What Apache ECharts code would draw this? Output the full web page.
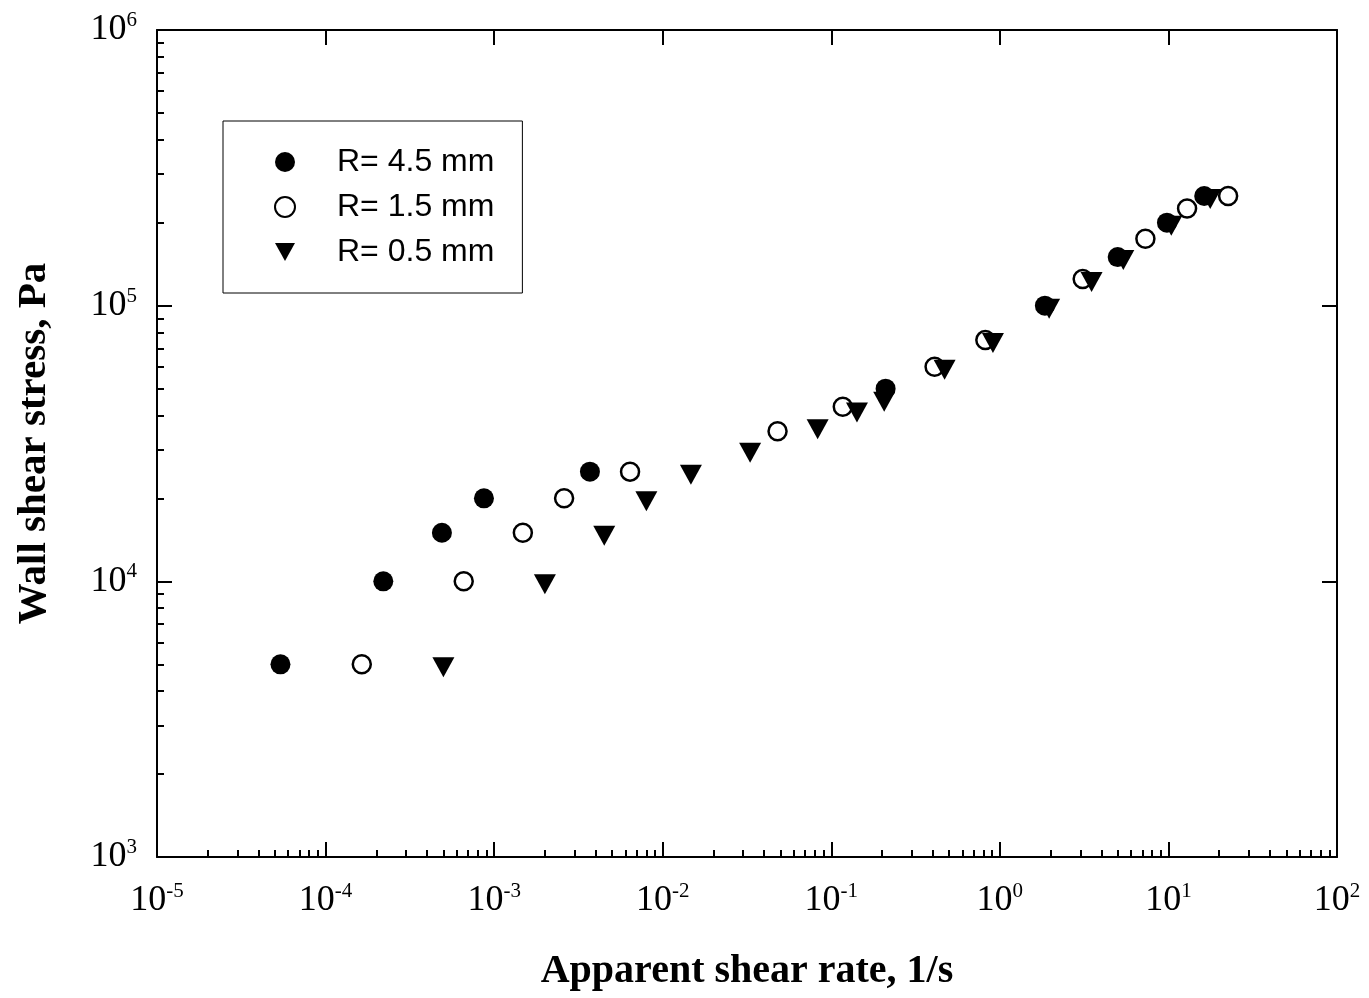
<!DOCTYPE html>
<html>
<head>
<meta charset="utf-8">
<title>Wall shear stress vs apparent shear rate</title>
<script src="https://cdn.jsdelivr.net/npm/echarts@6.0.0/dist/echarts.min.js"></script>
<style>
  html, body { margin: 0; padding: 0; background: #fff; }
  #chart { width: 1369px; height: 998px; }
</style>
</head>
<body>
<div id="chart"></div>
<script>
// R = 4.5 mm (filled circles)
const rateR45 = [5.4e-5, 2.2e-4, 4.9e-4, 8.7e-4, 3.7e-3, 0.21, 1.85, 5.0, 9.8, 16.3];
const stressR45 = [5000, 10000, 15000, 20000, 25000, 50000, 100000, 150000, 200000, 250000];
// R = 1.5 mm (open circles)
const rateR15 = [1.64e-4, 6.6e-4, 1.48e-3, 2.6e-3, 6.4e-3, 0.048, 0.117, 0.41, 0.82, 3.1, 7.3, 12.9, 22.6];
const stressR15 = [5000, 10000, 15000, 20000, 25000, 35000, 43000, 60000, 75000, 125000, 175000, 225000, 250000];
// R = 0.5 mm (down triangles)
const rateR05 = [5.0e-4, 2.0e-3, 4.5e-3, 8.0e-3, 0.0147, 0.033, 0.083, 0.142, 0.206, 0.47, 0.91, 1.96, 3.5, 5.4, 10.4, 17.7];
const stressR05 = [5000, 10000, 15000, 20000, 25000, 30000, 36500, 42000, 46000, 60000, 75000, 100000, 125000, 150000, 200000, 250000];

const seriesNames = ['R= 4.5 mm', 'R= 1.5 mm', 'R= 0.5 mm'];
const xMajor = [1e-5, 1e-4, 1e-3, 1e-2, 1e-1, 1, 10, 100];
const yMajor = [1e3, 1e4, 1e5, 1e6];

// 2..9 times each decade
const minorOf = (majors) => {
    let out = [];
    for (let i = 0; i < majors.length - 1; i++) {
        for (let k = 2; k <= 9; k++) out.push(majors[i] * k);
    }
    return out;
};

const zip = (xs, ys) => xs.map((x, i) => [x, ys[i]]);

const serif = '"Liberation Serif", "Times New Roman", serif';
const powLabel = {
    color: '#000',
    formatter: (v) => '{a|10}{b|' + Math.round(Math.log10(v)) + '}',
    rich: {
        a: { fontFamily: serif, fontSize: 36, lineHeight: 40, color: '#000' },
        b: { fontFamily: serif, fontSize: 21, lineHeight: 26, verticalAlign: 'top', color: '#000' }
    }
};
const black = { color: '#000', width: 2 };

const chart = echarts.init(document.getElementById('chart'));

let option = {
    animation: false,
    backgroundColor: '#fff',
    grid: { left: 157, right: 32, top: 30, bottom: 141 },
    legend: {
        orient: 'vertical',
        left: 223,
        top: 121,
        data: seriesNames,
        itemWidth: 20,
        itemHeight: 20,
        itemGap: 13,
        padding: [25, 28, 25, 51],
        borderColor: '#000',
        borderWidth: 1,
        textStyle: {
            fontFamily: '"Liberation Sans", Arial, sans-serif',
            fontSize: 32,
            color: '#000',
            padding: [0, 0, 0, 37]
        }
    },
    xAxis: [
        {
            type: 'log', min: 1e-5, max: 100, position: 'bottom',
            name: 'Apparent shear rate, 1/s',
            nameLocation: 'middle', nameGap: 95,
            nameTextStyle: { fontFamily: serif, fontWeight: 'bold', fontSize: 40, color: '#000' },
            axisLine: { lineStyle: black },
            axisTick: { inside: true, length: 15, lineStyle: black, customValues: xMajor },
            axisLabel: Object.assign({ margin: 24, customValues: xMajor }, powLabel),
            splitLine: { show: false }
        },
        {
            type: 'log', min: 1e-5, max: 100, position: 'bottom',
            axisLine: { show: false },
            axisTick: { inside: true, length: 7, lineStyle: black, customValues: minorOf(xMajor) },
            axisLabel: { show: false },
            splitLine: { show: false }
        },
        {
            type: 'log', min: 1e-5, max: 100, position: 'top',
            axisLine: { lineStyle: black },
            axisTick: { inside: true, length: 15, lineStyle: black, customValues: xMajor },
            axisLabel: { show: false },
            splitLine: { show: false }
        }
    ],
    yAxis: [
        {
            type: 'log', min: 1000, max: 1e6, position: 'left',
            name: 'Wall shear stress, Pa',
            nameLocation: 'middle', nameGap: 102,
            nameTextStyle: { fontFamily: serif, fontWeight: 'bold', fontSize: 41, color: '#000' },
            axisLine: { lineStyle: black },
            axisTick: { inside: true, length: 15, lineStyle: black, customValues: yMajor },
            axisLabel: Object.assign({ margin: 20, customValues: yMajor }, powLabel),
            splitLine: { show: false }
        },
        {
            type: 'log', min: 1000, max: 1e6, position: 'left',
            axisLine: { show: false },
            axisTick: { inside: true, length: 7, lineStyle: black, customValues: minorOf(yMajor) },
            axisLabel: { show: false },
            splitLine: { show: false }
        },
        {
            type: 'log', min: 1000, max: 1e6, position: 'right',
            axisLine: { lineStyle: black },
            axisTick: { inside: true, length: 15, lineStyle: black, customValues: yMajor },
            axisLabel: { show: false },
            splitLine: { show: false }
        }
    ],
    series: [
        {
            name: seriesNames[0],
            type: 'scatter',
            data: zip(rateR45, stressR45),
            symbol: 'circle',
            symbolSize: 20,
            itemStyle: { color: '#000', opacity: 1 }
        },
        {
            name: seriesNames[1],
            type: 'scatter',
            data: zip(rateR15, stressR15),
            symbol: 'circle',
            symbolSize: 18,
            itemStyle: { color: '#fff', borderColor: '#000', borderWidth: 2.5, opacity: 1 }
        },
        {
            name: seriesNames[2],
            type: 'scatter',
            data: zip(rateR05, stressR05),
            symbol: 'path://M0,0L22,0L11,20Z',
            symbolSize: [22, 20],
            symbolOffset: [0, 3],
            itemStyle: { color: '#000', opacity: 1 }
        }
    ]
};

chart.setOption(option);
</script>
</body>
</html>
